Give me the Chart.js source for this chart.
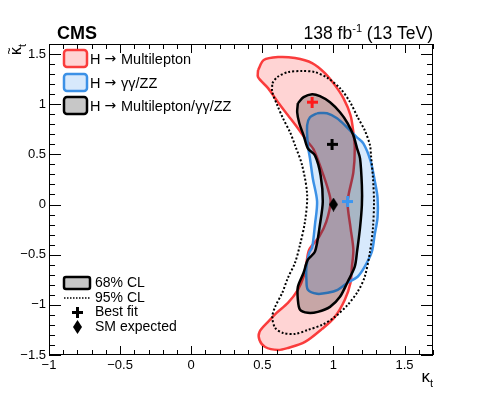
<!DOCTYPE html>
<html lang="en">
<head>
<meta charset="UTF-8">
<title>kappa_t vs kappa_t tilde</title>
<script src="https://cdn.jsdelivr.net/npm/chart.js@4"></script>
<style>
  body { margin: 0; background: #fff; }
  canvas { display: block; }
</style>
</head>
<body>
<canvas id="chart" width="498" height="394"></canvas>
<script>
// axis ticks
const xTicks = [-1, -0.5, 0, 0.5, 1, 1.5];
const yTicks = [-1.5, -1, -0.5, 0, 0.5, 1, 1.5];

// 68% CL, H -> Multilepton
const multilepX = [0.47, 0.51, 0.61, 0.73, 0.85, 0.94, 1.01, 1.07, 1.12, 1.14, 1.15, 1.14, 1.10, 1.12, 1.14, 1.13, 1.12, 1.08, 1.01, 0.92, 0.80, 0.68, 0.61, 0.52, 0.48, 0.48, 0.54, 0.60, 0.68, 0.75, 0.79, 0.81, 0.83, 0.90, 0.95, 0.98, 0.96, 0.92, 0.86, 0.81, 0.75, 0.68, 0.61, 0.54, 0.47];
const multilepY = [1.34, 1.44, 1.47, 1.46, 1.41, 1.31, 1.19, 1.06, 0.89, 0.72, 0.56, 0.32, 0.03, -0.23, -0.45, -0.62, -0.78, -0.95, -1.12, -1.24, -1.37, -1.43, -1.45, -1.42, -1.35, -1.27, -1.17, -1.08, -0.98, -0.85, -0.72, -0.58, -0.45, -0.32, -0.17, 0.03, 0.16, 0.33, 0.55, 0.64, 0.76, 0.89, 1.02, 1.16, 1.27];

// 68% CL, H -> gamma gamma / ZZ
const gagaX = [0.885, 0.955, 1.025, 1.095, 1.165, 1.21, 1.26, 1.29, 1.31, 1.31, 1.29, 1.27, 1.22, 1.17, 1.10, 1.03, 0.96, 0.885, 0.82, 0.81, 0.81, 0.83, 0.85, 0.87, 0.885, 0.855, 0.835, 0.82, 0.815, 0.835];
const gagaY = [0.91, 0.91, 0.86, 0.77, 0.67, 0.61, 0.44, 0.24, 0.07, -0.13, -0.30, -0.47, -0.62, -0.72, -0.78, -0.85, -0.88, -0.89, -0.85, -0.75, -0.62, -0.48, -0.43, -0.20, 0.03, 0.26, 0.46, 0.59, 0.79, 0.87];

// 68% CL, combination
const comb68X = [0.75, 0.79, 0.85, 0.905, 0.976, 1.046, 1.10, 1.14, 1.166, 1.187, 1.20, 1.20, 1.187, 1.166, 1.15, 1.10, 1.046, 0.976, 0.89, 0.82, 0.765, 0.75, 0.75, 0.79, 0.82, 0.87, 0.905, 0.925, 0.91, 0.87, 0.82, 0.79, 0.76, 0.745];
const comb68Y = [1.01, 1.07, 1.10, 1.08, 1.02, 0.92, 0.81, 0.69, 0.56, 0.46, 0.19, -0.005, -0.23, -0.47, -0.62, -0.77, -0.92, -1.02, -1.07, -1.08, -1.05, -0.95, -0.82, -0.68, -0.55, -0.47, -0.20, 0.03, 0.29, 0.49, 0.56, 0.69, 0.81, 0.92];

// 95% CL, combination
const comb95X = [0.57, 0.605, 0.68, 0.78, 0.87, 0.96, 1.046, 1.117, 1.17, 1.22, 1.257, 1.264, 1.278, 1.285, 1.278, 1.257, 1.22, 1.17, 1.10, 1.01, 0.92, 0.82, 0.73, 0.645, 0.59, 0.57, 0.59, 0.64, 0.68, 0.73, 0.765, 0.80, 0.815, 0.78, 0.73, 0.695, 0.645, 0.605, 0.57];
const comb95Y = [1.21, 1.27, 1.32, 1.33, 1.32, 1.26, 1.16, 1.02, 0.87, 0.74, 0.59, 0.49, 0.26, 0.03, -0.23, -0.47, -0.72, -0.87, -1.00, -1.12, -1.20, -1.25, -1.29, -1.28, -1.23, -1.12, -1.02, -0.88, -0.73, -0.58, -0.40, -0.17, 0.10, 0.39, 0.59, 0.72, 0.86, 0.99, 1.12];

// best fits and SM
const bestMultilep = [0.85, 1.02];
const bestGaga = [1.1, 0.03];
const bestComb = [0.99, 0.6];
const smPoint = [1, 0];

const RED = 'rgb(250,60,60)';
const BLUE = 'rgb(60,145,230)';
const RED_FILL = 'rgba(255,0,0,0.17)';
const BLUE_FILL = 'rgba(20,125,240,0.17)';
const GREY_FILL = 'rgba(0,0,0,0.22)';
const FONT = "'Liberation Sans', Arial, sans-serif";

function contour(xs, ys) {
    const p = xs.map((x, i) => ({x: x, y: ys[i]}));
    p.push(p[0]);
    return p;
}

function crossImg(color) {
    const c = document.createElement('canvas');
    c.width = 11; c.height = 11;
    const g = c.getContext('2d');
    g.fillStyle = color;
    g.fillRect(4, 0, 3, 11);
    g.fillRect(0, 4, 11, 3);
    return c;
}

function diamondImg() {
    const c = document.createElement('canvas');
    c.width = 9; c.height = 14;
    const g = c.getContext('2d');
    g.fillStyle = '#000';
    g.beginPath();
    g.moveTo(4.5, 0); g.lineTo(9, 7); g.lineTo(4.5, 14); g.lineTo(0, 7);
    g.closePath();
    g.fill();
    return c;
}

const redCross = crossImg('#ff1a1a');
const blueCross = crossImg('rgb(60,150,240)');
const blackCross = crossImg('#000');
const diamond = diamondImg();

function fmt(v) {
    v = Math.round(v * 10) / 10;
    return v < 0 ? '\u2212' + Math.abs(v) : String(v);
}

// frame, inner ticks, legends and labels
const decorations = {
    id: 'decorations',
    afterDraw(chart) {
        const {ctx, chartArea: a, scales: {x, y}} = chart;
        ctx.save();
        ctx.strokeStyle = '#000';
        ctx.lineWidth = 1;
        ctx.strokeRect(a.left + 0.5, a.top + 0.5, a.right - a.left - 1, a.bottom - a.top - 1);

        ctx.beginPath();
        for (let i = 0; i <= 27; i++) {
            const px = Math.round(x.getPixelForValue(-1 + i * 0.1)) + 0.5;
            const len = i % 5 === 0 ? 9 : 5;
            ctx.moveTo(px, a.bottom); ctx.lineTo(px, a.bottom - len);
            ctx.moveTo(px, a.top); ctx.lineTo(px, a.top + len);
        }
        for (let i = 0; i <= 31; i++) {
            const py = Math.round(y.getPixelForValue(-1.5 + i * 0.1)) + 0.5;
            const len = i % 5 === 0 ? 12 : 6;
            ctx.moveTo(a.left, py); ctx.lineTo(a.left + len, py);
            ctx.moveTo(a.right, py); ctx.lineTo(a.right - len, py);
        }
        ctx.stroke();

        // top legend: "H", arrow, process
        const entries = [
            {fill: RED_FILL, line: RED, text: 'Multilepton', y: 50},
            {fill: BLUE_FILL, line: BLUE, text: '\u03b3\u03b3/ZZ', y: 74},
            {fill: GREY_FILL, line: '#000', text: 'Multilepton/\u03b3\u03b3/ZZ', y: 97}
        ];
        ctx.textBaseline = 'alphabetic';
        entries.forEach(e => {
            ctx.beginPath();
            ctx.roundRect(64, e.y, 23, 17, 3);
            ctx.fillStyle = e.fill;
            ctx.fill();
            ctx.lineWidth = 2.5;
            ctx.strokeStyle = e.line;
            ctx.stroke();
            ctx.fillStyle = '#000';
            ctx.font = '14.5px ' + FONT;
            ctx.fillText('H', 90, e.y + 13.5);
            ctx.font = "14px 'DejaVu Sans'";
            ctx.fillText('\u2192', 104.5, e.y + 13);
            ctx.font = '14.5px ' + FONT;
            ctx.fillText(e.text, 121, e.y + 13.5);
        });

        // bottom legend
        ctx.font = '14px ' + FONT;
        ctx.beginPath();
        ctx.roundRect(64, 277, 26, 12, 2);
        ctx.fillStyle = GREY_FILL;
        ctx.fill();
        ctx.lineWidth = 2.5;
        ctx.strokeStyle = '#000';
        ctx.stroke();
        ctx.fillStyle = '#000';
        ctx.fillText('68% CL', 95, 287);

        ctx.beginPath();
        ctx.setLineDash([1.5, 1.5]);
        ctx.lineWidth = 1.5;
        ctx.moveTo(64, 298); ctx.lineTo(90, 298);
        ctx.stroke();
        ctx.setLineDash([]);
        ctx.fillText('95% CL', 95, 302);

        ctx.drawImage(blackCross, 72, 307);
        ctx.fillText('Best fit', 95, 316);
        ctx.drawImage(diamond, 73, 320);
        ctx.fillText('SM expected', 95, 331);

        // CMS label and lumi
        ctx.font = 'bold 18px ' + FONT;
        ctx.fillText('CMS', 57, 39);
        ctx.font = '17.5px ' + FONT;
        const t1 = '138 fb', t3 = ' (13 TeV)';
        const w1 = ctx.measureText(t1).width, w3 = ctx.measureText(t3).width;
        ctx.font = '11px ' + FONT;
        const w2 = ctx.measureText('-1').width;
        let sx = a.right - (w1 + w2 + w3);
        ctx.font = '17.5px ' + FONT;
        ctx.fillText(t1, sx, 39);
        ctx.font = '11px ' + FONT;
        ctx.fillText('-1', sx + w1, 32);
        ctx.font = '17.5px ' + FONT;
        ctx.fillText(t3, sx + w1 + w2, 39);

        // x title
        ctx.font = '17px ' + FONT;
        const kw = ctx.measureText('\u03ba').width;
        ctx.font = '11px ' + FONT;
        const tw = ctx.measureText('t').width;
        ctx.font = '17px ' + FONT;
        ctx.fillText('\u03ba', a.right - kw - tw, 382);
        ctx.font = '11px ' + FONT;
        ctx.fillText('t', a.right - tw, 387);

        // y title, rotated: kappa with tilde, subscript t
        ctx.translate(21, a.top);
        ctx.rotate(-Math.PI / 2);
        ctx.font = '16px ' + FONT;
        const yk = ctx.measureText('\u03ba').width;
        ctx.fillText('\u03ba', -(yk + tw), 0);
        ctx.textAlign = 'center';
        ctx.font = '12px ' + FONT;
        ctx.fillText('~', -(yk / 2 + tw), -8);
        ctx.textAlign = 'left';
        ctx.font = '11px ' + FONT;
        ctx.fillText('t', -tw, 5);
        ctx.restore();
    }
};

const lineSet = (label, pts, color, fill, order, extra) => Object.assign({
    label: label,
    data: pts,
    showLine: true,
    borderColor: color,
    backgroundColor: fill,
    borderWidth: 2.5,
    pointRadius: 0,
    tension: 0.3,
    fill: 'shape',
    order: order
}, extra || {});

const markerSet = (label, p, img, order) => ({
    label: label,
    data: [{x: p[0], y: p[1]}],
    pointStyle: img,
    pointRadius: 6,
    order: order
});

new Chart(document.getElementById('chart'), {
    type: 'scatter',
    data: {
        datasets: [
            lineSet('H \u2192 Multilepton', contour(multilepX, multilepY), RED, RED_FILL, 10),
            lineSet('H \u2192 \u03b3\u03b3/ZZ', contour(gagaX, gagaY), BLUE, BLUE_FILL, 9),
            lineSet('68% CL', contour(comb68X, comb68Y), '#000', GREY_FILL, 8),
            lineSet('95% CL', contour(comb95X, comb95Y), '#000', 'transparent', 7,
                {fill: false, borderDash: [2, 2], borderWidth: 2}),
            markerSet('Best fit multilepton', bestMultilep, redCross, 4),
            markerSet('Best fit gamma gamma ZZ', bestGaga, blueCross, 3),
            markerSet('Best fit combined', bestComb, blackCross, 2),
            markerSet('SM expected', smPoint, diamond, 1)
        ]
    },
    options: {
        responsive: false,
        animation: false,
        devicePixelRatio: 1,
        layout: {padding: {left: 0, right: 65, top: 44, bottom: 0}},
        plugins: {legend: {display: false}, tooltip: {enabled: false}},
        scales: {
            x: {
                type: 'linear',
                min: -1,
                max: 1.7,
                afterFit: s => { s.height = 39; },
                afterBuildTicks: s => { s.ticks = xTicks.map(v => ({value: v})); },
                grid: {display: false, drawTicks: false},
                border: {display: false},
                ticks: {
                    padding: 3,
                    color: '#000',
                    font: {family: FONT, size: 13},
                    maxRotation: 0,
                    callback: fmt
                }
            },
            y: {
                type: 'linear',
                min: -1.5,
                max: 1.6,
                afterFit: s => { s.width = 49; },
                afterBuildTicks: s => { s.ticks = yTicks.map(v => ({value: v})); },
                grid: {display: false, drawTicks: false},
                border: {display: false},
                ticks: {
                    padding: 3,
                    color: '#000',
                    font: {family: FONT, size: 13},
                    callback: fmt
                }
            }
        }
    },
    plugins: [decorations]
});
</script>
</body>
</html>
